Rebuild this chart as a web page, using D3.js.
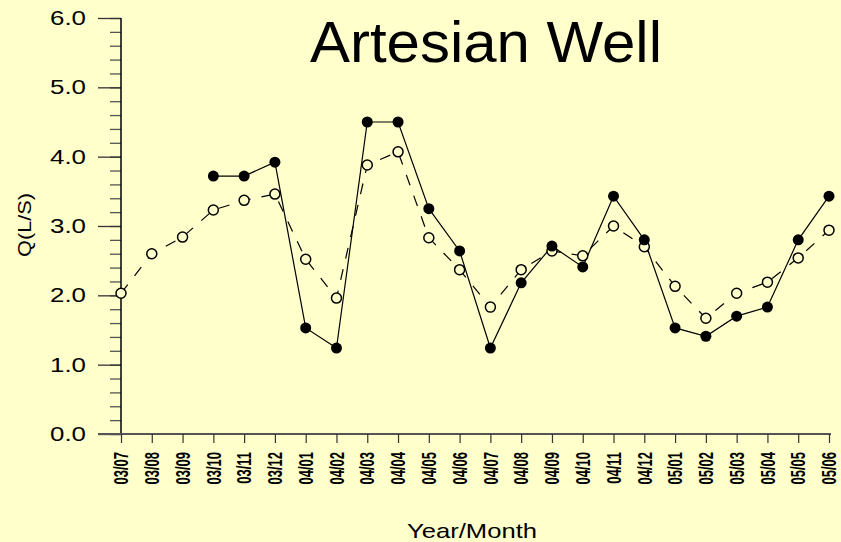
<!DOCTYPE html>
<head>
  <meta charset="utf-8">
  <script src="https://d3js.org/d3.v7.min.js"></script>
  <style>
    body { margin: 0; background: #ffffcc; }
    svg { display: block; font-family: "Liberation Sans", Arial, sans-serif; }
    .predicted { stroke: #000; stroke-width: 1.2px; fill: none; stroke-dasharray: 11, 11; }
    .xlab { font-size: 20px; font-weight: bold; fill: #000; }
  </style>
</head>
<body>
  <svg id="chart"></svg>
  <script>
    var months = ["03/07", "03/08", "03/09", "03/10", "03/11", "03/12",
                  "04/01", "04/02", "04/03", "04/04", "04/05", "04/06",
                  "04/07", "04/08", "04/09", "04/10", "04/11", "04/12",
                  "05/01", "05/02", "05/03", "05/04", "05/05", "05/06"];

    // solid series with filled dots (no data before 03/10)
    var measured = [null, null, null, 3.72, 3.72, 3.92,
                    1.53, 1.24, 4.50, 4.50, 3.25, 2.64,
                    1.24, 2.18, 2.71, 2.41, 3.43, 2.80,
                    1.53, 1.41, 1.70, 1.83, 2.80, 3.43];

    // dashed series with open dots
    var predicted = [2.03, 2.60, 2.84, 3.23, 3.37, 3.46,
                     2.52, 1.96, 3.88, 4.07, 2.83, 2.37,
                     1.83, 2.37, 2.64, 2.57, 3.00, 2.70,
                     2.13, 1.67, 2.03, 2.19, 2.54, 2.94];

    var yTicks = [0, 1, 2, 3, 4, 5, 6];

    var width = 841, height = 542;
    var svg = d3.select("#chart").attr("width", width).attr("height", height);

    svg.append("rect").attr("width", width).attr("height", height).attr("fill", "#ffffcc");

    var x = d3.scalePoint().domain(months).range([121, 829]);
    var y = d3.scaleLinear().domain([0, 6]).range([434, 18]);

    // y axis: minor ticks every 0.2, then major ticks with labels
    var yMinor = svg.append("g").attr("transform", "translate(121,0)");
    yMinor.call(d3.axisLeft(y).tickValues(d3.range(0, 6.01, 0.2)).tickSize(11).tickFormat(""));
    yMinor.selectAll(".tick line").attr("stroke", "#555").attr("stroke-width", 1.3);
    yMinor.select(".domain").remove();

    var yMajor = svg.append("g").attr("transform", "translate(121,0)");
    yMajor.call(d3.axisLeft(y).tickValues(yTicks).tickSize(23).tickFormat(d3.format(".1f")));
    yMajor.select(".domain").remove();
    yMajor.selectAll(".tick line").attr("stroke", "#333").attr("stroke-width", 1.3);
    yMajor.selectAll(".tick text")
        .attr("x", -35)
        .attr("font-size", 20)
        .attr("fill", "#000")
        .attr("textLength", 36)
        .attr("lengthAdjust", "spacingAndGlyphs")
        .attr("font-family", "Liberation Sans, Arial, sans-serif");
    svg.append("line").attr("x1", 121).attr("x2", 121).attr("y1", 18).attr("y2", 434)
        .attr("stroke", "#000").attr("stroke-width", 1.5);

    // x axis line + ticks, labels drawn separately
    var xAxis = svg.append("g").attr("transform", "translate(0,434)");
    xAxis.call(d3.axisBottom(x).tickSize(9).tickSizeOuter(0).tickFormat(""));
    xAxis.select(".domain").attr("d", "M98,0H831").attr("stroke", "#555").attr("stroke-width", 1.8);
    xAxis.selectAll(".tick line").attr("stroke", "#333").attr("stroke-width", 1.2);

    svg.append("g").selectAll("text")
      .data(months)
      .enter().append("text")
        .attr("class", "xlab")
        .attr("transform", function(d) { return "translate(" + x(d) + ",452) rotate(-90) scale(0.65,1)"; })
        .attr("dy", "0.36em")
        .attr("text-anchor", "end")
        .text(function(d) { return d; });

    var line = d3.line()
        .defined(function(d) { return d != null; })
        .x(function(d, i) { return x(months[i]); })
        .y(function(d) { return y(d); });

    svg.append("path").attr("class", "predicted").attr("d", line(predicted));

    svg.append("path").datum(measured)
        .attr("d", line)
        .attr("fill", "none").attr("stroke", "#000").attr("stroke-width", 1.2);

    svg.append("g").selectAll("circle")
      .data(predicted)
      .enter().append("circle")
        .attr("cx", function(d, i) { return x(months[i]); })
        .attr("cy", function(d) { return y(d); })
        .attr("r", 5)
        .attr("fill", "#ffffcc")
        .attr("stroke", "#000")
        .attr("stroke-width", 1.5);

    svg.append("g").selectAll("circle")
      .data(measured.map(function(d, i) { return {v: d, m: months[i]}; })
                    .filter(function(d) { return d.v != null; }))
      .enter().append("circle")
        .attr("cx", function(d) { return x(d.m); })
        .attr("cy", function(d) { return y(d.v); })
        .attr("r", 5.5)
        .attr("fill", "#000");

    // titles
    svg.append("text")
        .attr("x", 310).attr("y", 62)
        .attr("font-size", 57)
        .attr("textLength", 352)
        .attr("lengthAdjust", "spacingAndGlyphs")
        .text("Artesian Well");

    svg.append("text")
        .attr("transform", "translate(31,225) rotate(-90)")
        .attr("text-anchor", "middle")
        .attr("font-size", 19)
        .attr("textLength", 64)
        .attr("lengthAdjust", "spacingAndGlyphs")
        .text("Q(L/S)");

    svg.append("text")
        .attr("x", 407).attr("y", 538)
        .attr("font-size", 21)
        .attr("textLength", 130)
        .attr("lengthAdjust", "spacingAndGlyphs")
        .text("Year/Month");
  </script>
</body>
</html>
